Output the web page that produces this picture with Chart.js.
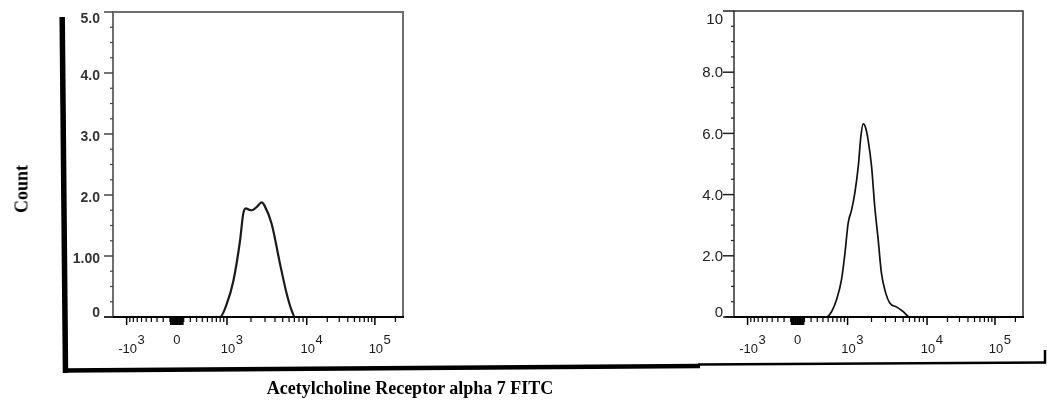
<!DOCTYPE html>
<html>
<head>
<meta charset="utf-8">
<script src="https://cdn.jsdelivr.net/npm/chart.js@4.4.1/dist/chart.umd.min.js"></script>
<style>
  html, body { margin: 0; padding: 0; background: #fff; }
  #page { position: relative; width: 1047px; height: 406px; overflow: hidden; background: #fff; }
  canvas { position: absolute; left: 0; top: 0; }
  .title { position: absolute; font-family: "Liberation Serif", "Times New Roman", serif; font-weight: bold; font-size: 18px; color: #000; white-space: nowrap; }
  #xTitle { left: 410px; top: 388px; transform: translate(-50%, -50%); }
  #yTitle { left: 22px; top: 189px; transform: translate(-50%, -50%) rotate(-90deg); }
</style>
</head>
<body>
<div id="page">
  <canvas id="leftHist" width="1047" height="406"></canvas>
  <canvas id="rightHist" width="1047" height="406"></canvas>
  <div class="title" id="yTitle">Count</div>
  <div class="title" id="xTitle">Acetylcholine Receptor alpha 7 FITC</div>
</div>
<script>
// FITC intensity on a biexponential display, expressed in display channels (0-1000)
const leftChannel = [0, 369, 392, 415, 438, 449, 458, 468, 478, 495, 513, 522, 547, 576, 599, 615, 628, 1000];
const leftCount   = [0, 0, 0.21, 0.59, 1.25, 1.69, 1.78, 1.76, 1.75, 1.80, 1.88, 1.83, 1.53, 0.87, 0.38, 0.12, 0, 0];

const rightChannel = [0, 320, 338, 355, 372, 384, 395, 407, 418, 430, 439, 447, 456, 464, 476, 487, 499, 510, 525, 539, 562, 585, 608, 1000];
const rightCount   = [0, 0, 0.18, 0.57, 1.22, 2.09, 3.07, 3.50, 4.05, 4.92, 5.90, 6.31, 6.17, 5.79, 4.92, 3.61, 2.52, 1.44, 0.78, 0.46, 0.33, 0.18, 0, 0];

// x axis decade labels and the display channel each one sits on
const xTickValues   = [-1000, 0, 1000, 10000, 100000];
const xTickChannels = [47, 220, 393, 668, 903];
const xTickBases    = ['-10', '0', '10', '10', '10'];
const xTickExps     = ['3', '', '3', '4', '5'];

// y axis labels
const leftYTicks   = [0, 1, 2, 3, 4, 5];
const leftYLabels  = ['0', '1.00', '2.0', '3.0', '4.0', '5.0'];
const rightYTicks  = [0, 2, 4, 6, 8, 10];
const rightYLabels = ['0', '2.0', '4.0', '6.0', '8.0', '10'];

// intensity -> display channel (linear-ish around zero, logarithmic per decade above 10^3)
function channelOf(v) {
  const zero = xTickChannels[1], neg = xTickChannels[0], pos = xTickChannels[2];
  if (v === 0) return zero;
  if (Math.abs(v) <= 1000) {
    const f = Math.asinh(Math.abs(v) / 500) / Math.asinh(2);
    return v > 0 ? zero + f * (pos - zero) : zero - f * (zero - neg);
  }
  const lg = Math.log10(v);
  if (lg >= 5) return xTickChannels[4] + (lg - 5) * (xTickChannels[4] - xTickChannels[3]);
  const k = Math.floor(lg);
  const c0 = xTickChannels[k - 1], c1 = xTickChannels[k];
  return c0 + (lg - k) * (c1 - c0);
}

function minorXValues() {
  const out = [];
  for (let v = -900; v <= -100; v += 100) out.push(v);
  for (let v = -90; v <= 90; v += 10) if (v !== 0) out.push(v);
  for (let v = 100; v <= 900; v += 100) out.push(v);
  for (let d = 1000; d <= 10000; d *= 10) for (let m = 2; m <= 9; m++) out.push(m * d);
  out.push(200000);
  return out;
}

const flowAxes = {
  id: 'flowAxes',
  afterDatasetsDraw(chart, args, o) {
    const { ctx, chartArea: a, scales: { x, y } } = chart;
    ctx.save();
    const seg = (x1, y1, x2, y2) => { ctx.beginPath(); ctx.moveTo(x1, y1); ctx.lineTo(x2, y2); ctx.stroke(); };

    // plot frame
    ctx.strokeStyle = o.frameColor;
    ctx.lineWidth = o.frameWidth;
    ctx.beginPath();
    ctx.moveTo(a.left, a.bottom); ctx.lineTo(a.left, a.top);
    ctx.lineTo(a.right, a.top); ctx.lineTo(a.right, a.bottom);
    ctx.stroke();

    // x axis line
    ctx.strokeStyle = '#000';
    ctx.lineWidth = 2;
    seg(a.left - 9, a.bottom, a.right + 1, a.bottom);

    // y ticks
    ctx.strokeStyle = o.tickColor;
    ctx.lineWidth = 1.5;
    const yt = o.yTicks;
    yt.forEach(v => { const py = y.getPixelForValue(v); seg(a.left - o.yMajorLen, py, a.left, py); });
    ctx.lineWidth = 1.2;
    for (let i = 0; i < yt.length - 1; i++) {
      const step = (yt[i + 1] - yt[i]) / 4;
      for (let j = 1; j < 4; j++) {
        const py = y.getPixelForValue(yt[i] + j * step);
        seg(a.left - 3, py, a.left, py);
      }
    }

    // y labels
    ctx.fillStyle = o.labelColor;
    ctx.font = o.yFont;
    ctx.textAlign = 'right';
    ctx.textBaseline = 'middle';
    yt.forEach((v, i) => {
      let py = y.getPixelForValue(v) + o.yLabelShift;
      py = Math.max(a.top + o.yTopInset, Math.min(a.bottom - 4, py));
      ctx.fillText(o.yLabels[i], a.left - o.yLabelGap, py);
    });

    // x ticks
    ctx.strokeStyle = '#000';
    ctx.lineWidth = 1.5;
    xTickChannels.forEach(c => { const px = x.getPixelForValue(c); seg(px, a.bottom, px, a.bottom + 8); });
    ctx.lineWidth = 1.2;
    minorXValues().forEach(v => {
      const px = x.getPixelForValue(channelOf(v));
      const len = Math.abs(v) < 100 ? 8 : 5;
      if (px <= a.right) seg(px, a.bottom, px, a.bottom + len);
    });

    // x labels
    ctx.fillStyle = '#1a1a1a';
    ctx.font = o.xFont;
    ctx.textBaseline = 'alphabetic';
    xTickChannels.forEach((c, i) => {
      const px = x.getPixelForValue(c);
      const base = xTickBases[i], exp = xTickExps[i];
      if (!exp) {
        ctx.textAlign = 'center';
        ctx.fillText(base, px, a.bottom + 27);
        return;
      }
      const wb = ctx.measureText(base).width;
      const start = px - wb / 2 + 1;
      ctx.textAlign = 'left';
      ctx.fillText(base, start, a.bottom + 36);
      ctx.fillText(exp, start + wb + 0.5, a.bottom + 27);
    });

    // shared count / intensity frame around both panels
    if (o.outerFrame) {
      ctx.strokeStyle = '#000';
      ctx.lineCap = 'butt';
      ctx.lineWidth = 5.5;
      seg(62.2, 17, 65.5, 373);
      ctx.lineWidth = 4.5;
      seg(63, 370.5, 700, 366);
      ctx.lineWidth = 2.5;
      seg(698, 364.5, 1046, 362.5);
      seg(1045, 350, 1045, 363.5);
    }
    ctx.restore();
  }
};

function histogram(id, xs, ys, yMax, pad, axisOpts, lineColor, lineWidth) {
  return new Chart(document.getElementById(id), {
    type: 'line',
    data: {
      datasets: [{
        data: xs.map((c, i) => ({ x: c, y: ys[i] })),
        borderColor: lineColor,
        borderWidth: lineWidth,
        pointRadius: 0,
        fill: false,
        cubicInterpolationMode: 'monotone'
      }]
    },
    options: {
      responsive: false,
      animation: false,
      devicePixelRatio: 1,
      layout: { padding: pad },
      plugins: { legend: { display: false }, tooltip: { enabled: false }, flowAxes: axisOpts },
      scales: {
        x: { type: 'linear', min: 0, max: 1000, display: false },
        y: { type: 'linear', min: 0, max: yMax, display: false }
      }
    },
    plugins: [flowAxes]
  });
}

histogram('leftHist', leftChannel, leftCount, 5,
  { left: 113, top: 12, right: 644, bottom: 89 },
  { frameColor: '#6e6e6e', frameWidth: 2, tickColor: '#444', yTicks: leftYTicks, yLabels: leftYLabels,
    yMajorLen: 9, yLabelGap: 13, yLabelShift: 3, yTopInset: 7, labelColor: '#333',
    yFont: 'bold 14px "Liberation Sans", Arial, sans-serif', xFont: '13px "Liberation Sans", Arial, sans-serif',
    outerFrame: true },
  '#1a1a1a', 2.2);

histogram('rightHist', rightChannel, rightCount, 10,
  { left: 734, top: 11, right: 24, bottom: 89 },
  { frameColor: '#333', frameWidth: 1.5, tickColor: '#222', yTicks: rightYTicks, yLabels: rightYLabels,
    yMajorLen: 11, yLabelGap: 11, yLabelShift: 1, yTopInset: 9, labelColor: '#222',
    yFont: '15px "Liberation Sans", Arial, sans-serif', xFont: '13px "Liberation Sans", Arial, sans-serif',
    outerFrame: false },
  '#111', 1.7);
</script>
</body>
</html>
